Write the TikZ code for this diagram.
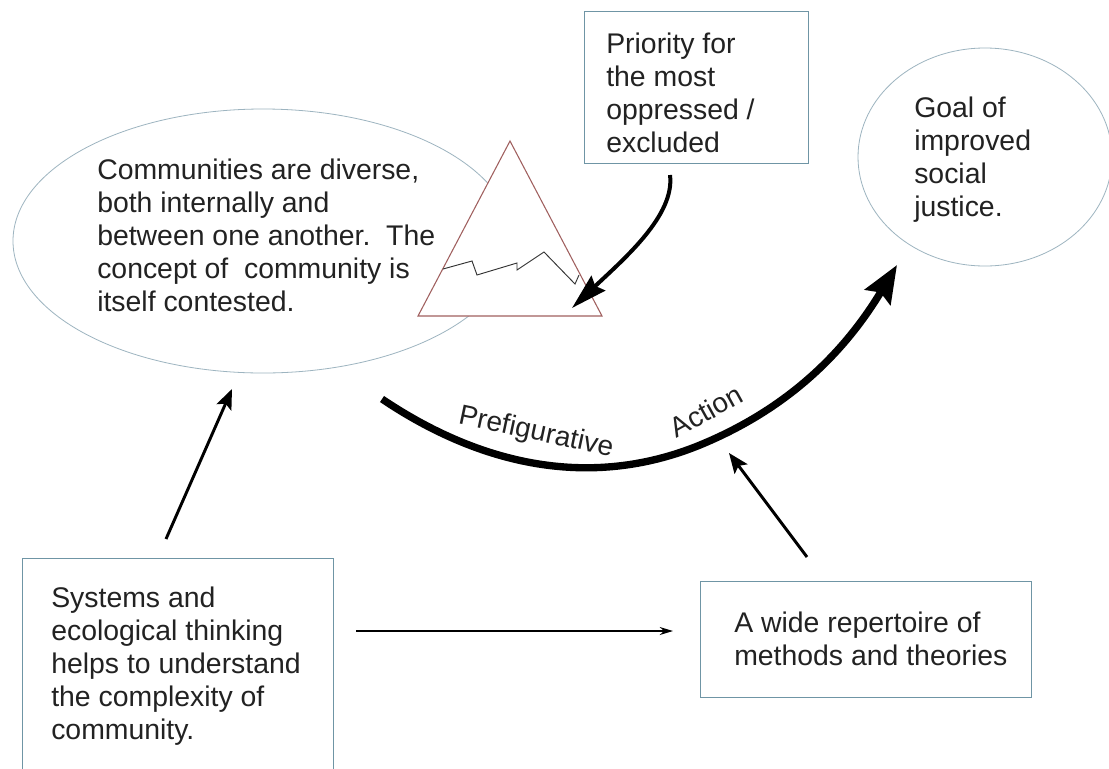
\documentclass[tikz,border=0pt]{standalone}
\usepackage{fontspec}
\setmainfont{Liberation Sans}
\usetikzlibrary{arrows.meta}
\definecolor{boxline}{HTML}{6F95A5}
\definecolor{ovalline}{HTML}{9DB4C0}
\definecolor{triline}{HTML}{A0605F}
\definecolor{inktext}{HTML}{222222}
\tikzset{
  x=0.75pt,y=-0.75pt,
  txt/.style={anchor=north west,align=left,inner sep=0pt,text=inktext,font=\fontsize{21.3}{24.6}\selectfont},
  lbl/.style={inner sep=0pt,text=inktext,font=\fontsize{21}{24}\selectfont},
  boxr/.style={draw=boxline,line width=0.75pt,fill=white},
  thinarrow/.style={draw=black,line width=0.9pt,-{Stealth[length=10pt,width=6pt]}},
  medarrow/.style={draw=black,line width=2.2pt,-{Stealth[length=15pt,width=12pt,inset=3pt]}},
}
\begin{document}
\begin{tikzpicture}
\useasboundingbox (0,0) rectangle (1109,768);
\fill[white] (0,0) rectangle (1109,768);
% ovals
\draw[draw=ovalline,line width=0.6pt] (263,241) ellipse [x radius=250,y radius=132];
\draw[draw=ovalline,line width=0.6pt] (985,157) ellipse [x radius=127,y radius=109];
% boxes
\draw[boxr] (584,11) rectangle (808,163);
\draw[boxr] (22,558) rectangle (333,790);
\draw[boxr] (700,581) rectangle (1031,697);
% triangle
\coordinate (apex) at (510,141);
\coordinate (tl) at (418,316);
\coordinate (tr) at (602,316);
\draw[draw=triline,line width=0.8pt,fill=white] (apex) -- (tl) -- (tr) -- cycle;
\draw[black!80,line width=0.7pt] (443,269) -- (472,261) -- (477,275) -- (517,263) -- (517,270) -- (544,252) -- (575,284) -- (579,275);
% texts
\node[txt] (tc) at (97,159) {Communities are diverse,\\both internally and\\between one another.\ \ The\\concept of\ \ community is\\itself contested.};
\node[txt] (tp) at (606,33) {Priority for\\the most\\oppressed /\\excluded};
\node[txt] (tg) at (914,97) {Goal of\\improved\\social\\justice.};
\node[txt] (ts) at (51,587) {Systems and\\ecological thinking\\helps to understand\\the complexity of\\community.};
\node[txt] (tw) at (734,612) {A wide repertoire of\\methods and theories};
\node[lbl,rotate=-12] (pre) at (536,433) {Prefigurative};
\node[lbl,rotate=29] (act) at (706,411) {Action};
% connectors
\coordinate (a1) at (670,175);
\coordinate (a2) at (572,308);
\draw[line width=3pt,-{Stealth[length=27pt,width=15pt,inset=3pt]}] (a1) .. controls (675,215) and (625,258) .. (a2);
\coordinate (m1) at (382,399);
\coordinate (m2) at (897,265);
\draw[line width=5.5pt,-{Stealth[length=28pt,width=22pt,inset=4pt]}] (m1) .. controls (480,465) and (590,490) .. (700,445) .. controls (780,412) and (840,360) .. (m2);
\coordinate (s1) at (166,539);
\coordinate (s2) at (232,389);
\draw[medarrow] (s1) -- (s2);
\coordinate (w1) at (807,557);
\coordinate (w2) at (729,453);
\draw[medarrow] (w1) -- (w2);
\coordinate (h1) at (356,631);
\coordinate (h2) at (673,631);
\draw[thinarrow] (h1) -- (h2);
\end{tikzpicture}
\end{document}
